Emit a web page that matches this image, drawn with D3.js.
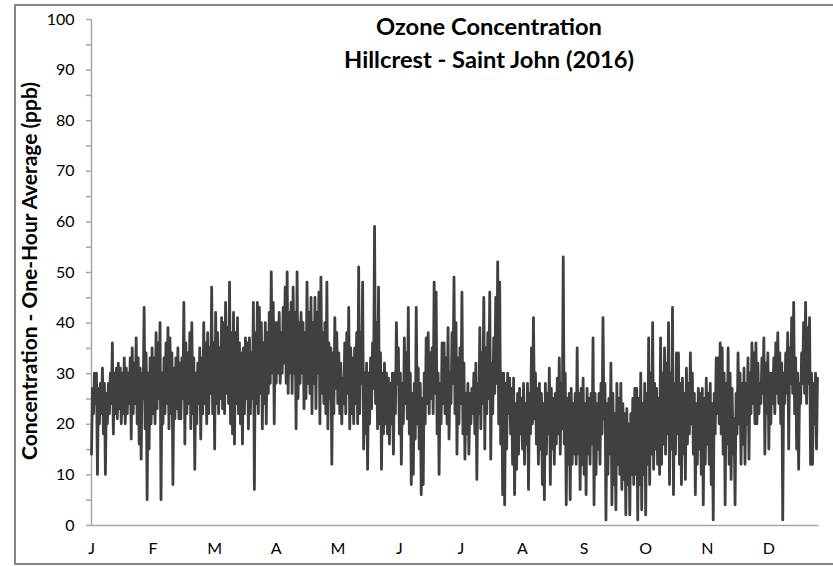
<!DOCTYPE html>
<html><head><meta charset="utf-8">
<script src="https://cdn.jsdelivr.net/npm/d3@7"></script>
<style>body{margin:0;background:#fff}svg{display:block}</style>
</head><body>
<svg id="c" width="833" height="566"></svg>
<script>
// ---- data ----
const chartTitle = ["Ozone Concentration", "Hillcrest - Saint John (2016)"];
const yAxisTitle = "Concentration - One-Hour Average (ppb)";
const monthLetters = ["J","F","M","A","M","J","J","A","S","O","N","D"];
const yTickLabels = [0,10,20,30,40,50,60,70,80,90,100];
const monthDays = [31,29,31,30,31,30,31,31,30,31,30,31];
// daily [low, high] pairs of the hourly ozone trace (ppb)
const jan = [14,27,22,30,24,30,10,27,20,28,22,31,18,28,10,26,20,28,22,30,24,36,18,30,22,31,21,32,23,31,20,30,22,33,20,31,22,30,24,33,17,35,22,32,24,37,20,33,16,31,13,30,25,43,19,34,5,30,15,33,20,35];
const feb = [22,33,20,38,23,36,25,40,5,30,20,33,22,36,24,39,19,37,22,34,8,31,21,33,23,35,21,32,21,33,25,44,16,36,22,34,24,38,19,40,22,33,11,30,20,32,24,35,17,33,22,40,24,36,20,38,22,35];
const mar = [26,47,22,36,15,42,24,38,22,35,25,41,23,40,22,44,26,39,24,48,20,38,18,42,16,38,24,41,22,36,20,34,16,35,22,37,25,36,19,37,22,34,25,44,7,38,24,44,22,43,26,40,19,36,24,40,20,38,26,42,28,50];
const apr = [30,44,20,40,28,40,30,42,28,38,30,43,32,47,28,50,26,42,30,44,26,47,30,42,19,50,25,40,28,42,30,40,23,38,25,48,28,42,26,45,22,40,28,45,23,42,30,46,20,49,26,38,24,40,22,48,19,36,25,35];
const may = [12,34,22,41,27,38,24,34,22,32,20,29,24,36,22,38,26,43,19,35,22,33,20,35,24,38,20,51,22,38,28,48,15,30,18,32,11,30,20,33,23,36,27,59,24,40,19,47,20,34,11,30,18,32,20,30,18,29,16,28,20,30];
const jun = [14,30,22,40,28,35,18,30,12,28,20,37,24,34,21,43,18,30,8,26,10,28,17,43,20,31,15,28,6,25,8,30,20,37,24,38,22,34,25,35,22,48,26,46,18,30,10,28,20,36,24,36,22,33,20,39,17,30,24,38];
const jul = [28,49,22,40,14,33,20,35,24,46,18,32,13,26,18,28,14,26,20,27,22,30,18,32,9,28,22,39,19,34,24,45,15,35,22,38,25,46,13,32,22,37,26,45,28,52,20,48,16,30,6,30,4,28,15,30,22,29,18,27,12,29];
const aug = [6,24,11,26,14,27,18,25,15,28,12,24,16,28,7,26,18,35,20,41,21,30,16,27,12,28,15,26,8,24,5,28,14,26,18,31,8,27,15,25,12,26,16,29,18,33,14,28,19,53,16,30,4,25,12,26,5,27,12,24,14,26];
const sep = [12,35,14,26,7,27,12,29,10,24,6,27,14,25,12,26,16,37,4,26,10,24,15,26,12,28,18,41,21,28,1,24,10,25,14,32,4,26,8,22,3,28,12,25,10,28,7,24,9,22,2,23,8,20,2,22,10,25,8,27];
const oct = [10,27,1,25,8,30,3,24,10,28,2,26,12,37,8,30,14,40,11,28,15,27,12,25,10,37,12,30,16,35,14,32,18,40,8,30,15,43,6,28,14,34,18,34,12,28,8,29,14,26,9,31,16,28,18,34,20,30,14,26,6,24];
const nov = [12,27,15,26,10,27,4,25,12,29,16,26,12,28,8,24,1,26,18,33,22,33,20,36,18,35,14,30,4,28,16,35,12,30,9,27,14,21,4,26,18,34,20,30,12,28,16,31,12,28,20,33,13,30,22,36,24,34,20,36];
const dec = [20,32,22,28,24,33,26,37,14,32,22,34,15,30,20,30,24,33,22,36,26,38,24,34,20,32,1,30,24,34,26,38,15,35,28,41,26,44,22,33,15,30,11,28,24,34,28,40,26,44,24,39,28,41,12,30,12,28,20,30,15,29];
const months = [jan,feb,mar,apr,may,jun,jul,aug,sep,oct,nov,dec];
const hoursPerLabel = 744;

// ---- build series (hour index, value) ----
const totalHours = d3.sum(monthDays) * 24;
const series = [];
let dayStart = 0;
months.forEach((arr, m) => {
  arr.forEach((v, j) => {
    const day = dayStart + Math.floor(j / 2);
    series.push({h: day * 24 + (j % 2) * 12 + 6, v});
  });
  dayStart += monthDays[m];
});

// ---- chart ----
const svg = d3.select("#c");
svg.append("rect").attr("x",0).attr("y",0).attr("width",833).attr("height",566).attr("fill","#fff");
svg.append("rect").attr("x",15).attr("y",5).attr("width",840).attr("height",559)
  .attr("fill","none").attr("stroke","#868686").attr("stroke-width",2);

const x = d3.scaleLinear().domain([0, totalHours]).range([91, 818]);
const y = d3.scaleLinear().domain([0, 100]).range([525, 19]);
const axisColor = "#a6a6a6";

// y axis
const yAxis = d3.axisLeft(y)
  .tickValues(d3.range(0, 101, 5))
  .tickSize(5).tickSizeOuter(0).tickPadding(11.5)
  .tickFormat(d => yTickLabels.includes(d) ? d : "");
const gy = svg.append("g").attr("transform","translate(91,0)").call(yAxis);
gy.select(".domain").attr("stroke", axisColor).attr("stroke-width",1.5);
gy.selectAll(".tick line").attr("stroke", axisColor).attr("stroke-width",1.5);
gy.selectAll(".tick text").attr("font-family","Lato, 'Open Sans', sans-serif")
  .attr("font-size",16).attr("fill","#000");

// x axis
const xAxis = d3.axisBottom(x)
  .tickValues(monthLetters.map((_, i) => i * hoursPerLabel))
  .tickSize(0).tickSizeOuter(0).tickPadding(18)
  .tickFormat((d, i) => monthLetters[i]);
const gx = svg.append("g").attr("transform","translate(0,525)").call(xAxis);
gx.select(".domain").attr("stroke", axisColor).attr("stroke-width",1.5);
gx.selectAll(".tick text").attr("font-family","Lato, 'Open Sans', sans-serif")
  .attr("font-size",16).attr("fill","#000");

// line
const line = d3.line().x(d => x(d.h)).y(d => y(d.v));
svg.append("path").datum(series)
  .attr("d", line).attr("fill","none")
  .attr("stroke","#404040").attr("stroke-width",2.8)
  .attr("stroke-linejoin","round").attr("stroke-linecap","round");

// titles, fitted to the reference widths
function fit(sel, target){
  const base = 20;
  sel.attr("font-size", base);
  const len = sel.node().getComputedTextLength();
  const s = base * target / len;
  sel.attr("font-size", s);
  return s;
}
const t2 = svg.append("text").attr("x",489).attr("y",68).attr("text-anchor","middle")
  .attr("font-family","Lato, 'Open Sans', sans-serif").attr("font-weight","bold").attr("fill","#000")
  .text(chartTitle[1]);
const ts = fit(t2, 290);
svg.append("text").attr("x",489).attr("y",35).attr("text-anchor","middle")
  .attr("font-family","Lato, 'Open Sans', sans-serif").attr("font-weight","bold").attr("fill","#000")
  .attr("font-size", ts).text(chartTitle[0]);

const yt = svg.append("text").attr("transform","translate(37,271) rotate(-90)")
  .attr("text-anchor","middle")
  .attr("font-family","Lato, 'Open Sans', sans-serif").attr("font-weight","bold").attr("fill","#000")
  .text(yAxisTitle);
fit(yt, 378);
</script>
</body></html>
